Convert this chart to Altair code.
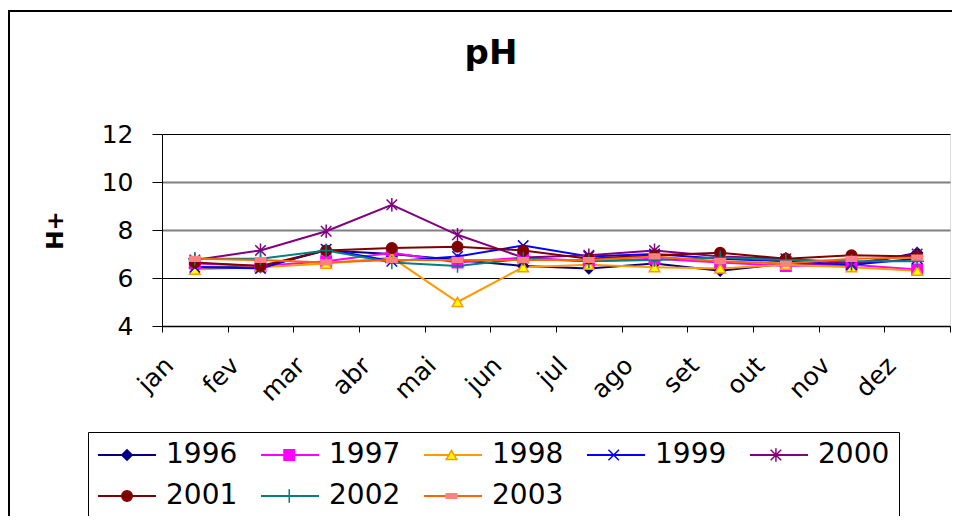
import altair as alt
import pandas as pd

months = ["jan", "fev", "mar", "abr", "mai", "jun", "jul", "ago", "set", "out", "nov", "dez"]
years = ["1996", "1997", "1998", "1999", "2000", "2001", "2002", "2003"]

ph_1996 = [6.45, 6.45, 7.15, 7.00, 6.75, 6.50, 6.40, 6.60, 6.30, 6.60, 6.50, 7.05]
ph_1997 = [6.60, 6.50, 6.70, 7.05, 6.65, 6.85, 6.70, 6.80, 6.65, 6.50, 6.55, 6.35]
ph_1998 = [6.35, 6.45, 6.60, 6.85, 5.00, 6.45, 6.55, 6.45, 6.40, 6.55, 6.45, 6.30]
ph_1999 = [6.45, 6.40, 7.20, 6.70, 6.90, 7.35, 6.90, 7.00, 6.80, 6.70, 6.55, 6.80]
ph_2000 = [6.75, 7.15, 7.95, 9.05, 7.80, 6.85, 6.95, 7.15, 6.90, 6.80, 6.60, 7.00]
ph_2001 = [6.65, 6.50, 7.15, 7.25, 7.30, 7.15, 6.80, 6.95, 7.05, 6.80, 6.95, 6.90]
ph_2002 = [6.80, 6.80, 7.15, 6.65, 6.50, 6.80, 6.70, 6.75, 6.85, 6.75, 6.70, 6.70]
ph_2003 = [6.80, 6.75, 6.65, 6.75, 6.75, 6.75, 6.75, 6.90, 6.70, 6.60, 6.80, 6.85]

line_colors = ["#000080", "#FF00FF", "#FF9900", "#0000FF", "#800080", "#800000", "#008080", "#FF6600"]
marker_fills = ["#000080", "#FF00FF", "#FFFF00", "#0000FF", "#800080", "#800000", "#008080", "#FF8080"]
marker_strokes = ["#000080", "#FF00FF", "#FF9900", "#0000FF", "#800080", "#800000", "#008080", "#FF8080"]
marker_shapes = [
    "diamond",
    "square",
    "triangle-up",
    "M-1,-1L1,1M-1,1L1,-1",
    "M-1,-1L1,1M-1,1L1,-1M0,-1.3L0,1.3",
    "circle",
    "M-1.3,0L1.3,0M0,-1.3L0,1.3",
    "M-1,-0.45L1,-0.45L1,0.45L-1,0.45Z",
]

series = [ph_1996, ph_1997, ph_1998, ph_1999, ph_2000, ph_2001, ph_2002, ph_2003]
rows = []
for y, vals in zip(years, series):
    for i, (m, v) in enumerate(zip(months, vals)):
        rows.append({"month": m, "month_idx": i, "year": y, "year_m": y, "ph": v})
df = pd.DataFrame(rows)

FONT = "DejaVu Sans"
LEG_X = -74
LEG_Y = 298
LEG_FS = 28
LEG_PAD = 9
LEG_CLIP = 28
LEG_COLPAD = 22
LEG_ROWPAD = 13
LINE_SIZE = 3364  # symbol length 58px
# vega legend entry offset = max(ceil(sqrt(size) + strokeWidth), fontSize)
LINE_OFF = 60
MARK_OFF = 28
LABEL_W = 4 * 0.636 * LEG_FS  # width of a 4-digit label in DejaVu Sans

x_enc = alt.X(
    "month:N",
    sort=months,
    scale=alt.Scale(type="band", paddingInner=0, paddingOuter=0),
    axis=alt.Axis(
        title=None,
        tickBand="extent",
        labelAngle=315,
        labelAlign="right",
        labelBaseline="middle",
        labelPadding=29,
        labelOffset=-26,
        labelFont=FONT,
        labelFontSize=25,
        labelColor="black",
        tickSize=6,
        tickColor="black",
        domainColor="black",
        grid=False,
    ),
)
y_enc = alt.Y(
    "ph:Q",
    scale=alt.Scale(domain=[4, 12], nice=False, zero=False),
    axis=alt.Axis(
        title="H+",
        values=[4, 6, 8, 10, 12],
        titleFont=FONT,
        titleFontSize=23,
        titleFontWeight="bold",
        titleColor="black",
        titleAngle=270,
        titleAlign="center",
        titleBaseline="middle",
        titleX=-107,
        titleY=96,
        labelFont=FONT,
        labelFontSize=25,
        labelColor="black",
        labelPadding=19,
        tickSize=10,
        tickColor="black",
        domainColor="black",
        grid=True,
        gridColor={"condition": {"test": "datum.value === 6 || datum.value === 12", "value": "black"}, "value": "#808080"},
        gridWidth={"condition": {"test": "datum.value === 6 || datum.value === 12", "value": 1}, "value": 2},
    ),
)

frame = alt.Chart(pd.DataFrame({"k": [0]})).mark_rect(
    filled=False, stroke="black", strokeWidth=2
).encode(
    x=alt.value(-153), x2=alt.value(900), y=alt.value(-123), y2=alt.value(500)
)

lines = alt.Chart(df).mark_line(strokeWidth=2).encode(
    x=x_enc,
    y=y_enc,
    color=alt.Color(
        "year:N",
        scale=alt.Scale(domain=years, range=line_colors),
        legend=alt.Legend(
            title=None,
            orient="none",
            legendX=LEG_X,
            legendY=LEG_Y,
            direction="horizontal",
            columns=5,
            symbolType="stroke",
            symbolSize=LINE_SIZE,
            symbolStrokeWidth=2,
            labelFont=FONT,
            labelFontSize=LEG_FS,
            labelColor="black",
            labelOffset=9,
            clipHeight=LEG_CLIP,
            columnPadding=LEG_COLPAD,
            rowPadding=LEG_ROWPAD,
            padding=LEG_PAD,
            strokeColor="black",
            fillColor="white",
            zindex=1,
        ),
    ),
    order=alt.Order("month_idx:Q"),
)

shift = LINE_OFF / 2 - MARK_OFF / 2
marker_legend = dict(
    title=None,
    orient="none",
    legendX=LEG_X + shift,
    legendY=LEG_Y,
    direction="horizontal",
    columns=5,
    symbolSize=110,
    symbolStrokeWidth=1.5,
    labelFont=FONT,
    labelFontSize=LEG_FS,
    labelExpr="''",
    labelOffset=LINE_OFF + 9 - MARK_OFF,
    clipHeight=LEG_CLIP,
    columnPadding=LEG_COLPAD + LABEL_W,
    rowPadding=LEG_ROWPAD,
    padding=LEG_PAD,
    zindex=2,
)

points = alt.Chart(df).mark_point(size=110, strokeWidth=1.5, opacity=1).encode(
    x=x_enc,
    y=y_enc,
    fill=alt.Fill("year_m:N", scale=alt.Scale(range=marker_fills), legend=alt.Legend(**marker_legend)),
    stroke=alt.Stroke("year_m:N", scale=alt.Scale(range=marker_strokes), legend=alt.Legend(**marker_legend)),
    shape=alt.Shape("year_m:N", scale=alt.Scale(range=marker_shapes), legend=alt.Legend(**marker_legend)),
)

chart = alt.layer(frame, lines, points).properties(
    width=788,
    height=192,
    padding={"left": 154, "top": 126, "right": 2, "bottom": 190},
    autosize=alt.AutoSizeParams(type="none"),
    title=alt.TitleParams(
        "pH",
        font=FONT,
        fontSize=34,
        fontWeight="bold",
        color="black",
        anchor="middle",
        frame="group",
        dx=-65,
        offset=-88,
        baseline="alphabetic",
    ),
).configure_view(stroke="black", strokeWidth=1).configure(background="white")

chart.save("out.html", embed_options={"renderer": "svg", "actions": False})
